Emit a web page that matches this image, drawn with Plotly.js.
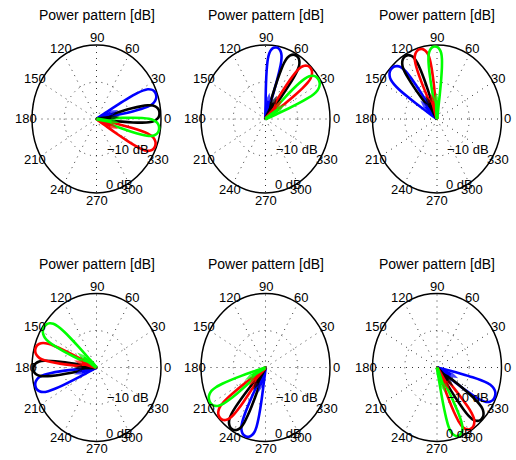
<!DOCTYPE html>
<html><head><meta charset="utf-8">
<script src="https://cdn.plot.ly/plotly-3.0.1.min.js"></script>
<style>html,body{margin:0;padding:0;background:#fff}</style>
</head><body><div id="chart" style="width:516px;height:460px"></div>
<script>
// ---- data ----
const angleTicks  = [0, 30, 60, 90, 120, 150, 180, 210, 240, 270, 300, 330];
const angleLabels = ['0','30','60','90','120','150','180','210','240','270','300','330'];
const radialLabels = ['\u221210 dB', '0 dB'];
const panelTitle = 'Power pattern [dB]';
const beamColors = ['#0000ff', '#000000', '#ff0000', '#00ff00']; // blue, black, red, green

// beam steering directions (deg) per panel, order: blue, black, red, green
const steerP1 = [20, 5, -22, -8];
const steerP2 = [80, 61, 45, 33];
const steerP3 = [136, 120, 106, 92];
const steerP4 = [195, 181, 165, 146];
const steerP5 = [252, 238, 224, 208];
const steerP6 = [336, 315, 303, 290];
// main-lobe half widths (deg) per panel
const widthP1 = [11, 11, 11, 11];
const widthP2 = [10, 11, 11, 12];
const widthP3 = [12, 11, 11, 10];
const widthP4 = [11, 10, 11, 12];
const widthP5 = [11, 11, 11, 12];
const widthP6 = [12, 11, 11, 10];
// normalised main-lobe shape (offset in half-widths, level on the 0..1 dB scale)
const lobeOffset = [-1, -0.97, -0.93, -0.88, -0.82, -0.74, -0.62, -0.45, -0.25, 0, 0.25, 0.45, 0.62, 0.74, 0.82, 0.88, 0.93, 0.97, 1];
const lobeLevel  = [0, 0.2, 0.4, 0.58, 0.72, 0.83, 0.91, 0.96, 0.99, 1, 0.99, 0.96, 0.91, 0.83, 0.72, 0.58, 0.4, 0.2, 0];
const lobePeak = 0.98;
const arrowLength = 0.36;
const radialRings = [0.5, 1];

const steers = [steerP1, steerP2, steerP3, steerP4, steerP5, steerP6];
const widths = [widthP1, widthP2, widthP3, widthP4, widthP5, widthP6];

// ---- layout geometry ----
const W = 516, H = 460;
const colCenters = [96.5, 265.5, 437];
const rowCenters = [119, 367.5];
const rx = 64.5, ry = 74, R = 1.2;
const rad = d => d * Math.PI / 180;

const traces = [], shapes = [], annotations = [];
const layout = {
  width: W, height: H, margin: {l: 0, r: 0, t: 0, b: 0},
  paper_bgcolor: '#fff', plot_bgcolor: 'rgba(0,0,0,0)', showlegend: false,
  font: {family: 'Liberation Sans, Arial, sans-serif', size: 13, color: '#000'}
};

for (let p = 0; p < 6; p++) {
  const col = p % 3, row = Math.floor(p / 3);
  const xa = 'x' + (p + 1), ya = 'y' + (p + 1);
  const xk = 'xaxis' + (p === 0 ? '' : p + 1), yk = 'yaxis' + (p === 0 ? '' : p + 1);
  const cx = colCenters[col], cy = rowCenters[row];
  const ax = {range: [-R, R], visible: false, showgrid: false, zeroline: false, fixedrange: true};
  layout[xk] = Object.assign({}, ax, {domain: [(cx - R * rx) / W, (cx + R * rx) / W], anchor: ya});
  layout[yk] = Object.assign({}, ax, {domain: [(H - (cy + R * ry)) / H, (H - (cy - R * ry)) / H], anchor: xa});

  // grid: dotted spokes, dotted inner ring, solid outer ring
  angleTicks.forEach(a => {
    shapes.push({type: 'line', xref: xa, yref: ya, layer: 'below', x0: 0, y0: 0,
      x1: Math.cos(rad(a)), y1: Math.sin(rad(a)), line: {color: '#333', width: 1, dash: '1px,5px'}});
  });
  radialRings.forEach((r, i) => {
    const last = i === radialRings.length - 1;
    shapes.push({type: 'circle', xref: xa, yref: ya, layer: 'below', x0: -r, y0: -r, x1: r, y1: r,
      line: last ? {color: '#000', width: 1.5} : {color: '#333', width: 1, dash: '1px,5px'}});
  });

  // angle labels
  angleTicks.forEach((a, i) => {
    annotations.push({xref: xa, yref: ya, x: 1.1 * Math.cos(rad(a)), y: 1.1 * Math.sin(rad(a)),
      text: angleLabels[i], showarrow: false, xanchor: 'center', yanchor: 'middle', font: {size: 13}});
  });
  // radial labels
  annotations.push({xref: xa, yref: ya, x: 0.13, y: -0.41, text: radialLabels[0], showarrow: false,
    xanchor: 'left', yanchor: 'middle', font: {size: 13}});
  annotations.push({xref: xa, yref: ya, x: 0.115, y: -0.89, text: radialLabels[1], showarrow: false,
    xanchor: 'left', yanchor: 'middle', font: {size: 13}});
  // title
  annotations.push({xref: 'paper', yref: 'paper', x: cx / W, y: (H - (cy - 104)) / H, text: panelTitle,
    showarrow: false, xanchor: 'center', yanchor: 'middle', font: {size: 14}});

  // beams
  steers[p].forEach((s, b) => {
    const hw = widths[p][b];
    const xs = [], ys = [];
    lobeOffset.forEach((u, k) => {
      const th = rad(s + u * hw), r = lobePeak * lobeLevel[k];
      xs.push(r * Math.cos(th)); ys.push(r * Math.sin(th));
    });
    traces.push({type: 'scatter', mode: 'lines', xaxis: xa, yaxis: ya, x: xs, y: ys,
      line: {color: beamColors[b], width: 2.6, shape: 'spline', smoothing: 0.8}, hoverinfo: 'skip'});
  });
  steers[p].forEach((s, b) => {
    traces.push({type: 'scatter', mode: 'lines+markers', xaxis: xa, yaxis: ya,
      x: [0, arrowLength * Math.cos(rad(s))], y: [0, arrowLength * Math.sin(rad(s))],
      line: {color: beamColors[b], width: 3.5},
      marker: {symbol: 'arrow', size: [0, 9], angleref: 'previous', color: beamColors[b], line: {width: 0}},
      hoverinfo: 'skip'});
  });
}
layout.shapes = shapes;
layout.annotations = annotations;
Plotly.newPlot('chart', traces, layout, {staticPlot: true, displayModeBar: false});
</script></body></html>
